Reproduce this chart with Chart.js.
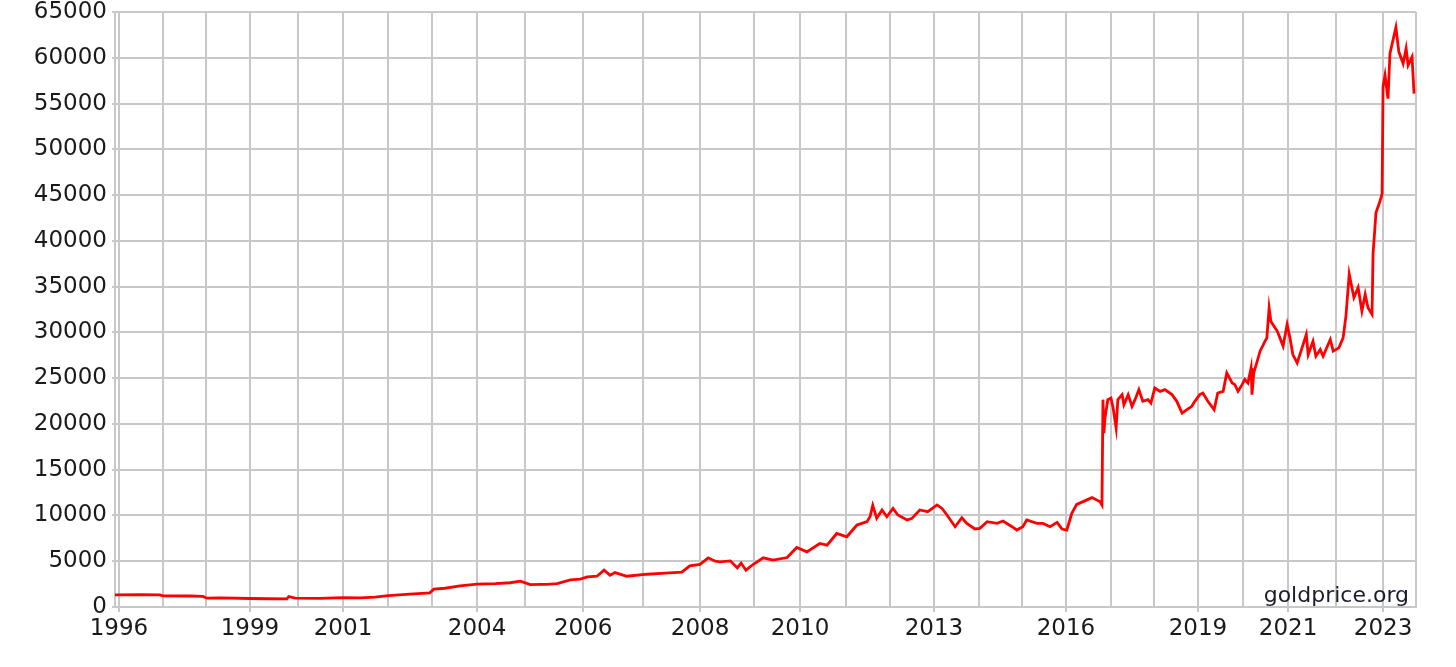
<!DOCTYPE html>
<html>
<head>
<meta charset="utf-8">
<script src="https://cdn.jsdelivr.net/npm/chart.js@4"></script>
<style>
    html, body { margin: 0; padding: 0; background: #fff; }
</style>
</head>
<body>
<canvas id="goldChart" width="1456" height="667"></canvas>
<script>
// Years on the axis and how many observations each year holds (sets the width of each year)
const years = [1996, 1997, 1998, 1999, 2000, 2001, 2002, 2003, 2004, 2005, 2006, 2007, 2008, 2009,
    2010, 2011, 2012, 2013, 2014, 2015, 2016, 2017, 2018, 2019, 2020, 2021, 2022, 2023];
const obsPerYear = [251, 245, 251, 274, 257, 257, 251, 257, 274, 331, 342, 325, 308, 262,
    262, 251, 251, 257, 245, 251, 257, 245, 251, 257, 257, 274, 268, 188];
const labeledYears = [1996, 1999, 2001, 2004, 2006, 2008, 2010, 2013, 2016, 2019, 2021, 2023];
const yTicks = [0, 5000, 10000, 15000, 20000, 25000, 30000, 35000, 40000, 45000, 50000, 55000, 60000, 65000];
const axisEnd = 2024;

// Gold price (decimal year, price)
const dates = [
    1995.91, 1996.48, 1996.93, 1997.00, 1997.63, 1997.93, 1998.02, 1998.32, 1999.00, 1999.42,
    1999.77, 1999.81, 1999.94, 2000.49, 2001.00, 2001.38, 2001.71, 2002.00, 2002.50, 2002.95,
    2003.04, 2003.29, 2003.62, 2004.00, 2004.38, 2004.69, 2004.90, 2005.09, 2005.26, 2005.38,
    2005.55, 2005.78, 2005.95, 2006.07, 2006.23, 2006.35, 2006.45, 2006.53, 2006.73, 2007.07,
    2007.39, 2007.68, 2007.82, 2008.00, 2008.15, 2008.28, 2008.37, 2008.56, 2008.69, 2008.76,
    2008.85, 2008.98, 2009.20, 2009.41, 2009.72, 2009.93, 2010.15, 2010.43, 2010.59, 2010.80,
    2011.02, 2011.25, 2011.48, 2011.55, 2011.61, 2011.70, 2011.82, 2011.93, 2012.07, 2012.18,
    2012.39, 2012.50, 2012.68, 2012.86, 2013.07, 2013.18, 2013.29, 2013.47, 2013.62, 2013.73,
    2013.91, 2014.02, 2014.19, 2014.42, 2014.56, 2014.77, 2014.88, 2015.02, 2015.11, 2015.34,
    2015.48, 2015.64, 2015.80, 2015.91, 2016.02, 2016.13, 2016.24, 2016.38, 2016.58, 2016.76,
    2016.80, 2016.822, 2016.844, 2016.867, 2016.93, 2017.00, 2017.05, 2017.12, 2017.16, 2017.26,
    2017.30, 2017.40, 2017.49, 2017.56, 2017.65, 2017.74, 2017.86, 2017.93, 2018.02, 2018.14,
    2018.25, 2018.41, 2018.52, 2018.64, 2018.75, 2018.86, 2018.93, 2019.04, 2019.11, 2019.22,
    2019.36, 2019.44, 2019.56, 2019.64, 2019.76, 2019.82, 2019.89, 2019.98, 2020.04, 2020.11,
    2020.18, 2020.20, 2020.24, 2020.38, 2020.49, 2020.53, 2020.58, 2020.62, 2020.76, 2020.82,
    2020.89, 2020.98, 2021.04, 2021.10, 2021.19, 2021.27, 2021.38, 2021.42, 2021.52, 2021.58,
    2021.67, 2021.73, 2021.79, 2021.88, 2021.94, 2022.06, 2022.15, 2022.21, 2022.28, 2022.38,
    2022.47, 2022.55, 2022.62, 2022.68, 2022.766, 2022.787, 2022.85, 2022.915, 2022.98, 2023.00,
    2023.06, 2023.15, 2023.21, 2023.39, 2023.48, 2023.61, 2023.70, 2023.76, 2023.88, 2023.94
];
const prices = [
    1330, 1340, 1320, 1220, 1200, 1150, 960, 1000, 930, 900,
    880, 1150, 980, 950, 1020, 1000, 1080, 1250, 1400, 1550,
    1950, 2050, 2300, 2500, 2550, 2650, 2820, 2450, 2470, 2480,
    2550, 2960, 3050, 3280, 3360, 4020, 3470, 3760, 3360, 3580,
    3700, 3800, 4500, 4650, 5370, 5000, 4930, 5040, 4270, 4800,
    4020, 4640, 5370, 5120, 5400, 6500, 6030, 6940, 6760, 8030,
    7670, 8950, 9320, 9900, 11100, 9690, 10600, 9860, 10770, 10050,
    9500, 9680, 10600, 10410, 11150, 10770, 10050, 8770, 9750, 9130,
    8520, 8590, 9320, 9130, 9390, 8770, 8410, 8770, 9500, 9130,
    9130, 8770, 9240, 8520, 8410, 10230, 11210, 11510, 11950, 11500,
    11150, 22650, 19000, 20640, 22650, 22830, 21740, 19540, 22650, 23200,
    22100, 23200, 21920, 22650, 23750, 22470, 22650, 22280, 23930, 23560,
    23750, 23200, 22470, 21190, 21560, 21920, 22470, 23200, 23380, 22470,
    21560, 23380, 23560, 25570, 24470, 24290, 23560, 24290, 24850, 24470,
    26120, 23200, 25570, 27950, 29040, 29400, 32690, 31200, 30140, 29400,
    28500, 30870, 29400, 27580, 26670, 27950, 29770, 27580, 29040, 27400,
    28130, 27400, 28130, 29220, 27950, 28310, 29400, 31780, 36360, 33800,
    34900, 32330, 34160, 32700, 31970, 38550, 43100, 44020, 45120, 56810,
    58090, 55540, 60470, 63320, 60650, 59370, 61020, 59180, 60100, 56080
];

// cumulative observation count at the start of each year
const yearStart = [0];
obsPerYear.forEach(function(n, i) { yearStart.push(yearStart[i] + n); });

function toX(d) {
    let i = Math.floor(d) - years[0];
    if (i < 0) return (d - years[0]) * obsPerYear[0];
    if (i >= years.length) return yearStart[years.length] + (d - axisEnd) * obsPerYear[years.length - 1];
    return yearStart[i] + (d - Math.floor(d)) * obsPerYear[i];
}

const gridColor = '#c8c8c8';
const textFont = { family: '"DejaVu Sans", Verdana, sans-serif', size: 23, lineHeight: 1 };

// goldprice.org text in the lower right corner
const watermark = {
    id: 'watermark',
    afterDraw(chart) {
        const ctx = chart.ctx, a = chart.chartArea;
        ctx.save();
        ctx.font = '22px "DejaVu Sans", Verdana, sans-serif';
        ctx.fillStyle = '#1c1c30';
        ctx.textAlign = 'right';
        ctx.textBaseline = 'alphabetic';
        ctx.fillText('goldprice.org', a.right - 7, a.bottom - 5);
        ctx.restore();
    }
};

const ctx = document.getElementById('goldChart').getContext('2d');
const goldChart = new Chart(ctx, {
    type: 'line',
    data: {
        datasets: [{
            data: dates.map(function(d, i) { return { x: toX(d), y: prices[i] }; }),
            borderColor: '#ff0000',
            borderWidth: 2.8,
            pointRadius: 0,
            tension: 0,
            fill: false
        }]
    },
    options: {
        responsive: false,
        animation: false,
        devicePixelRatio: 1,
        layout: { padding: { top: 12, right: 40, left: 0, bottom: 0 } },
        plugins: { legend: { display: false }, tooltip: { enabled: false } },
        scales: {
            x: {
                type: 'linear',
                min: toX(dates[0]),
                max: toX(axisEnd),
                afterBuildTicks: function(axis) {
                    axis.ticks = years.concat([axisEnd]).map(function(y) { return { value: toX(y) }; });
                },
                afterFit: function(axis) { axis.height = 60; },
                ticks: {
                    autoSkip: false,
                    maxRotation: 0,
                    padding: 6,
                    color: '#1a1a1a',
                    font: textFont,
                    callback: function(value, index) {
                        const y = years[index];
                        return labeledYears.includes(y) ? String(y) : '';
                    }
                },
                grid: {
                    color: gridColor,
                    lineWidth: 2,
                    tickLength: 5,
                    tickColor: function(c) {
                        return labeledYears.includes(years[c.index]) ? gridColor : 'rgba(0,0,0,0)';
                    }
                },
                border: { color: gridColor, width: 2 }
            },
            y: {
                min: 0,
                max: 65000,
                afterBuildTicks: function(axis) {
                    axis.ticks = yTicks.map(function(v) { return { value: v }; });
                },
                afterFit: function(axis) {
                    axis.width = 115;
                    axis.paddingTop = 0;
                    axis.paddingBottom = 0;
                },
                ticks: {
                    padding: 5,
                    color: '#1a1a1a',
                    font: textFont,
                    callback: function(value) { return String(value); }
                },
                grid: { color: gridColor, lineWidth: 2, tickLength: 3 },
                border: { color: gridColor, width: 2 }
            }
        }
    },
    plugins: [watermark]
});
</script>
</body>
</html>
